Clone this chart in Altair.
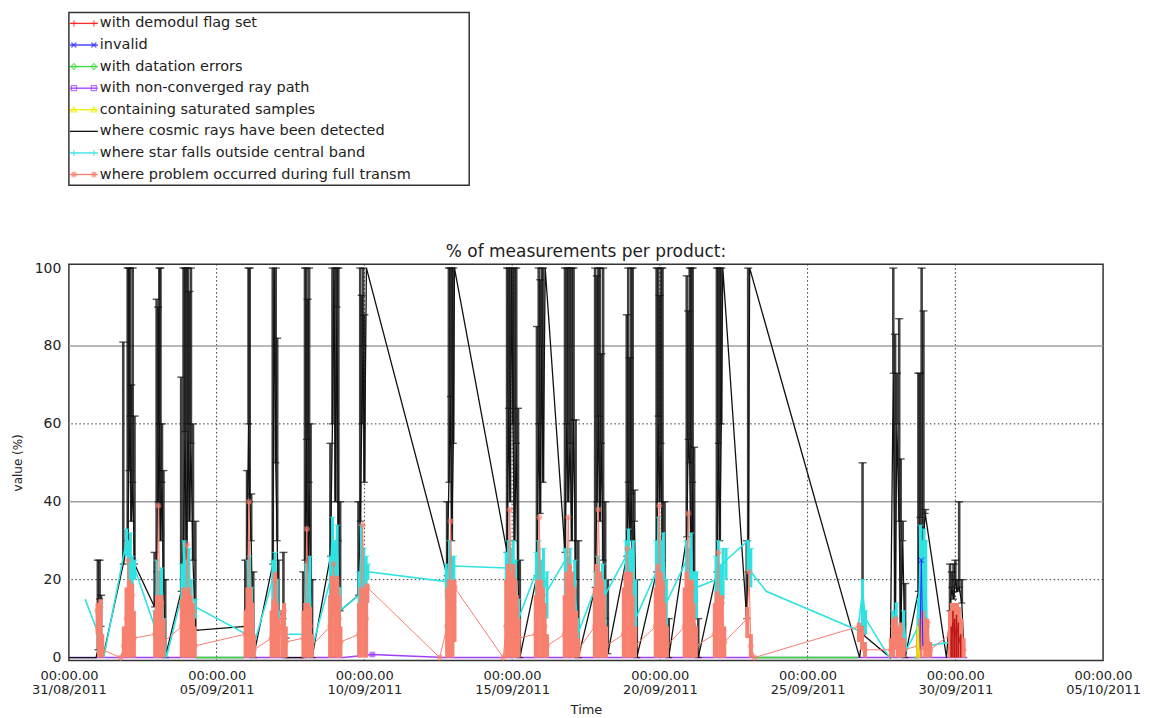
import altair as alt
import pandas as pd

FONT = "DejaVu Sans"

TITLE = "% of measurements per product:"
X_TITLE = "Time"
Y_TITLE = "value (%)"
TICK_DAYS = [0, 5, 10, 15, 20, 25, 30, 35]          # days after 31/08/2011 00:00
TICK_TIME = "00:00.00"
TICK_DATES = ["31/08/2011", "05/09/2011", "10/09/2011", "15/09/2011",
              "20/09/2011", "25/09/2011", "30/09/2011", "05/10/2011"]
Y_TICKS = [0, 20, 40, 60, 80, 100]
GRID_SOLID = [40, 80]
GRID_DOTTED = [20, 60]
VGRID_DOTTED = [5, 10, 15, 20, 25, 30]
X_RANGE = [0, 35]
Y_RANGE = [-0.75, 101.0]

LEGEND_LABELS = [
    "with demodul flag set",
    "invalid",
    "with datation errors",
    "with non-converged ray path",
    "containing saturated samples",
    "where cosmic rays have been detected",
    "where star falls outside central band",
    "where problem occurred during full transm",
]

# cosmic rays: (day, value, error upper)
COSMIC = [
    (0.00, 0, 0), (0.92, 0, 0),
    (0.98, 2, 25), (1.04, 15, 25), (1.09, 8, 16), (1.15, 0, 0),
    (1.84, 24, 81), (1.99, 30, 100), (2.03, 48, 100), (2.07, 62, 100), (2.11, 35, 70), (2.16, 45, 100), (2.22, 24, 62),
    (2.90, 13, 27), (2.97, 22, 92), (3.02, 40, 90), (3.06, 60, 100), (3.10, 30, 100), (3.15, 45, 60), (3.20, 20, 48), (3.26, 0, 20),
    (3.80, 17, 72), (3.88, 30, 100), (3.93, 58, 100), (3.98, 20, 100), (4.03, 60, 100), (4.08, 35, 94), (4.13, 55, 100), (4.20, 25, 60), (4.28, 7, 35),
    (5.97, 8, 25), (6.03, 25, 48), (6.08, 60, 100), (6.12, 40, 100), (6.17, 30, 42), (6.24, 0, 22),
    (6.90, 24, 100), (6.95, 100, 100), (7.00, 50, 100), (7.05, 30, 82), (7.09, 12, 25),
    (7.26, 10, 27), (7.33, 0, 5),
    (7.93, 0, 22), (7.99, 25, 100), (8.04, 56, 100), (8.08, 10, 92), (8.13, 45, 100), (8.18, 20, 60), (8.23, 0, 20),
    (8.85, 26, 55), (8.92, 60, 100), (8.97, 100, 100), (9.02, 40, 100), (9.07, 90, 100), (9.12, 30, 100), (9.18, 12, 40),
    (9.80, 16, 40), (9.86, 35, 100), (9.91, 60, 93), (9.96, 80, 100), (10.00, 45, 88), (10.07, 100, 100),
    (12.80, 21, 40), (12.86, 45, 100), (12.91, 67, 100), (12.96, 30, 100), (13.01, 55, 100), (13.05, 100, 100),
    (14.83, 27, 100), (14.88, 64, 100), (14.93, 40, 100), (14.98, 100, 100), (15.03, 60, 100), (15.08, 30, 100), (15.14, 55, 100), (15.20, 20, 64), (15.26, 0, 25),
    (15.84, 21, 85), (15.90, 60, 100), (15.95, 37, 97), (16.00, 80, 100), (16.05, 45, 100), (16.12, 100, 100),
    (16.79, 27, 100), (16.85, 60, 100), (16.90, 40, 100), (16.96, 55, 100), (17.02, 30, 100), (17.08, 61, 100), (17.15, 20, 61), (17.24, 0, 30),
    (17.81, 18, 100), (17.87, 40, 98), (17.92, 62, 100), (17.97, 35, 100), (18.02, 55, 78), (18.08, 25, 100), (18.15, 10, 40), (18.24, 1, 20),
    (18.88, 26, 88), (18.93, 45, 100), (18.98, 30, 77), (19.03, 42, 100), (19.08, 20, 100), (19.14, 35, 43), (19.22, 0, 20),
    (19.89, 22, 100), (19.94, 62, 100), (19.99, 40, 93), (20.04, 55, 100), (20.09, 25, 100), (20.16, 15, 40), (20.30, 0, 10),
    (20.91, 31, 98), (20.96, 56, 89), (21.01, 50, 100), (21.06, 20, 100), (21.11, 45, 100), (21.16, 10, 54), (21.30, 0, 10),
    (21.93, 22, 100), (21.98, 55, 100), (22.03, 30, 100), (22.08, 60, 100), (22.13, 100, 100),
    (22.94, 10, 30), (22.99, 22, 100), (23.04, 100, 100),
    (26.76, 0, 0), (26.86, 6, 50),
    (27.80, 0, 0), (27.90, 73, 100), (27.96, 5, 83), (28.02, 60, 73), (28.10, 35, 87), (28.15, 5, 51), (28.22, 30, 35), (28.30, 0, 19),
    (28.75, 17, 73), (28.80, 36, 73), (28.86, 16, 100), (28.92, 30, 89), (28.98, 37, 38), (29.70, 0, 0),
    (29.82, 12, 24), (29.88, 18, 22), (29.94, 15, 24), (30.00, 20, 25), (30.06, 17, 20), (30.13, 18, 40), (30.22, 14, 20), (30.30, 0, 0),
]

# star outside central band: (day, value, error low, error high)
STAR_BAND = [
    (0.55, 15, 15, 15),
    (1.00, 6, 6, 6), (1.08, 10, 4, 14), (1.18, 0, 0, 0),
    (1.95, 30, 26, 33), (2.02, 22, 15, 30), (2.08, 25, 18, 32), (2.14, 18, 10, 26), (2.22, 23, 20, 25),
    (2.90, 8, 5, 12), (2.98, 20, 8, 25), (3.06, 12, 5, 22), (3.14, 18, 8, 23), (3.22, 5, 0, 10), (3.30, 0, 0, 0),
    (3.82, 16, 8, 24), (3.90, 27, 10, 30), (3.98, 14, 6, 25), (4.06, 24, 10, 28), (4.14, 10, 5, 20), (4.28, 13, 10, 15),
    (6.00, 6, 3, 10), (6.06, 18, 8, 25), (6.12, 22, 12, 26), (6.18, 10, 5, 18), (6.25, 3, 0, 5),
    (6.90, 20, 10, 25), (6.98, 25, 15, 27), (7.05, 15, 8, 20), (7.10, 8, 5, 12),
    (7.28, 6, 3, 10),
    (7.95, 6, 3, 10), (8.02, 20, 8, 24), (8.08, 12, 5, 22), (8.15, 22, 10, 26), (8.22, 2, 0, 5),
    (8.85, 20, 10, 26), (8.92, 35, 15, 36), (9.00, 22, 10, 30), (9.08, 28, 12, 34), (9.16, 12, 8, 18),
    (9.82, 16, 10, 22), (9.90, 30, 15, 34), (9.98, 20, 12, 28), (10.06, 24, 18, 26), (10.12, 22, 20, 24),
    (12.77, 19.5, 15, 24), (12.88, 25, 18, 30), (12.95, 20, 12, 26), (13.03, 23.5, 20, 26),
    (14.80, 23, 18, 27), (14.88, 27, 15, 30), (14.96, 18, 8, 28), (15.04, 24, 10, 30), (15.12, 15, 8, 25), (15.22, 10, 5, 15),
    (15.82, 22, 12, 27), (15.90, 26, 15, 30), (15.98, 16, 8, 25), (16.06, 22, 10, 28), (16.18, 17, 10, 22),
    (16.80, 25, 15, 28), (16.88, 18, 8, 26), (16.96, 24, 10, 28), (17.04, 12, 5, 22), (17.12, 20, 8, 25), (17.22, 6, 2, 10),
    (17.82, 18, 10, 22), (17.90, 22, 10, 26), (17.98, 14, 5, 22), (18.06, 20, 8, 24), (18.14, 16, 8, 20),
    (18.86, 26, 15, 30), (18.94, 30, 18, 33), (19.02, 18, 8, 28), (19.10, 24, 10, 30), (19.18, 10, 5, 20),
    (19.88, 22, 12, 30), (19.96, 35, 18, 36), (20.04, 20, 10, 30), (20.12, 28, 12, 32), (20.22, 14, 8, 20),
    (20.90, 25, 15, 30), (20.98, 20, 10, 28), (21.06, 28, 12, 32), (21.14, 15, 8, 22), (21.24, 18, 10, 22),
    (21.90, 20, 12, 26), (21.98, 25, 15, 30), (22.06, 18, 10, 24), (22.14, 24, 15, 28), (22.24, 25, 20, 28),
    (22.98, 30, 22, 30), (23.08, 22, 18, 28),
    (23.60, 17, 17, 17), (26.70, 7, 7, 7),
    (26.86, 17, 8, 20), (26.96, 10, 6, 12),
    (27.77, 0, 0, 0), (27.90, 8, 2, 12), (28.00, 12, 5, 14), (28.10, 4, 0, 8), (28.25, 10, 5, 12), (28.35, 2, 2, 2),
    (28.75, 8, 2, 15), (28.82, 32, 10, 34), (28.88, 15, 5, 30), (28.94, 30, 12, 33), (29.00, 22, 8, 30), (29.05, 3, 0, 8),
    (29.85, 4, 0, 8), (30.00, 8, 2, 10), (30.15, 2, 0, 5), (30.30, 0, 0, 0),
]

# problem during full transmission: (day, value, error low, error high)
FULL_TRANSM = [
    (0.97, 12, 6, 14), (1.02, 4, 0, 10), (1.07, 13, 3, 15), (1.13, 2, 0, 6), (1.75, 0, 0, 0),
    (1.86, 3, 0, 8), (1.95, 10, 0, 18), (2.00, 25, 25, 25), (2.04, 14, 0, 20), (2.09, 8, 0, 18), (2.14, 16, 2, 19), (2.20, 5, 0, 12),
    (2.92, 6, 0, 12), (2.98, 12, 0, 16), (3.03, 39, 39, 39), (3.08, 10, 0, 16), (3.13, 14, 2, 16), (3.20, 4, 0, 10),
    (3.82, 8, 0, 15), (3.88, 14, 0, 18), (3.94, 10, 0, 17), (4.00, 29, 29, 29), (4.06, 15, 0, 18), (4.12, 9, 0, 16), (4.20, 12, 0, 14), (4.26, 3, 0, 8),
    (5.98, 6, 0, 12), (6.04, 12, 0, 18), (6.09, 40, 40, 40), (6.14, 14, 0, 18), (6.20, 8, 0, 14), (6.26, 2, 0, 6),
    (6.86, 5, 0, 12), (6.92, 12, 0, 15), (6.98, 20, 2, 22), (7.03, 10, 0, 14), (7.08, 6, 0, 10),
    (7.22, 8, 0, 12), (7.28, 12, 0, 14), (7.34, 4, 0, 8),
    (7.94, 5, 0, 12), (8.00, 10, 0, 14), (8.05, 33, 33, 33), (8.10, 12, 0, 14), (8.16, 8, 0, 13), (8.22, 3, 0, 6),
    (8.84, 8, 0, 16), (8.90, 14, 0, 21), (8.96, 24, 24, 24), (9.02, 12, 0, 20), (9.08, 17, 0, 21), (9.14, 10, 0, 16), (9.19, 4, 0, 8),
    (9.82, 6, 0, 14), (9.88, 12, 0, 18), (9.94, 34, 34, 34), (10.00, 14, 0, 18), (10.06, 10, 0, 16), (10.10, 18, 14, 19),
    (12.55, 0, 0, 0),
    (12.80, 8, 0, 18), (12.86, 14, 0, 20), (12.92, 35, 35, 35), (12.98, 12, 0, 20), (13.05, 18, 4, 20),
    (14.70, 0, 0, 0),
    (14.80, 8, 0, 20), (14.86, 16, 0, 24), (14.92, 38, 38, 38), (14.98, 14, 0, 22), (15.04, 20, 0, 24), (15.10, 10, 0, 20), (15.16, 12, 0, 16), (15.22, 5, 0, 10),
    (15.80, 6, 0, 16), (15.86, 14, 0, 20), (15.92, 36, 36, 36), (15.98, 12, 0, 20), (16.04, 16, 0, 18), (16.10, 8, 0, 14), (16.18, 3, 0, 6),
    (16.78, 6, 0, 16), (16.84, 14, 0, 22), (16.90, 36, 36, 36), (16.96, 16, 0, 24), (17.02, 18, 0, 22), (17.08, 10, 0, 18), (17.16, 6, 0, 12), (17.24, 2, 0, 5),
    (17.80, 8, 0, 18), (17.86, 16, 0, 24), (17.92, 38, 38, 38), (17.98, 14, 0, 22), (18.04, 18, 0, 20), (18.10, 8, 0, 16), (18.18, 3, 0, 8),
    (18.78, 6, 0, 18), (18.84, 14, 0, 22), (18.90, 28, 28, 28), (18.96, 16, 0, 22), (19.02, 20, 0, 22), (19.08, 10, 0, 16), (19.16, 3, 0, 8),
    (19.86, 8, 0, 18), (19.92, 16, 0, 24), (19.98, 39, 39, 39), (20.04, 14, 0, 22), (20.10, 18, 0, 20), (20.16, 8, 0, 14), (20.24, 3, 0, 8),
    (20.84, 8, 0, 18), (20.90, 16, 0, 22), (20.96, 37, 37, 37), (21.02, 14, 0, 20), (21.08, 18, 0, 20), (21.14, 8, 0, 14), (21.22, 3, 0, 8),
    (21.86, 6, 0, 14), (21.92, 12, 0, 17), (21.98, 27, 27, 27), (22.04, 10, 0, 16), (22.10, 14, 0, 16), (22.18, 4, 0, 8),
    (22.96, 10, 5, 13), (23.02, 22, 22, 22), (23.08, 3, 0, 6), (23.20, 0, 0, 0),
    (26.74, 8, 4, 9), (26.84, 6, 2, 8), (26.94, 2, 0, 4),
    (27.82, 2, 0, 5), (27.90, 8, 0, 10), (27.98, 10, 2, 10), (28.06, 4, 0, 8), (28.15, 7, 0, 9), (28.25, 2, 0, 5),
    (28.74, 3, 0, 6), (28.82, 8, 0, 10), (28.90, 10, 2, 12), (28.98, 5, 0, 8), (29.05, 9, 0, 10), (29.15, 2, 0, 4),
    (29.82, 6, 0, 12), (29.88, 10, 0, 14), (29.94, 12, 0, 14), (30.00, 8, 0, 14), (30.06, 12, 0, 14), (30.12, 9, 0, 13), (30.20, 5, 0, 10), (30.28, 2, 0, 5),
]

# demodul flag set: (day, value, error low, error high)
DEMODUL = [
    (29.86, 4, 0, 8), (29.92, 9, 0, 12), (29.98, 5, 0, 10), (30.04, 8, 0, 11), (30.10, 6, 0, 9), (30.18, 3, 0, 6),
]
# invalid: (day, value)
INVALID = [(28.80, 2), (28.85, 25), (28.90, 3)]
# datation errors: (segment, day, value)
DATATION = [
    (0, 4.30, 0), (0, 5.90, 0),
    (1, 23.20, 0), (1, 26.70, 0),
    (2, 28.60, 0), (2, 28.70, 0), (2, 28.72, 11), (2, 28.76, 2), (2, 28.85, 0),
]
# non-converged ray path: (day, value)
NONCONV = [
    (0.0, 0), (0.9, 0), (2.3, 0), (3.4, 0), (4.4, 0), (5.9, 0), (7.4, 0), (8.3, 0), (9.3, 0),
    (10.27, 0.8), (12.7, 0), (13.1, 0), (14.7, 0), (15.3, 0), (16.3, 0), (17.3, 0), (18.3, 0),
    (19.3, 0), (20.3, 0), (21.3, 0), (22.3, 0), (23.2, 0), (26.7, 0), (27.7, 0), (28.5, 0),
    (29.6, 0), (30.4, 0),
]
# saturated samples: (day, value)
SATURATED = [(28.70, 0), (28.73, 8), (28.78, 0)]

# ---------------- styles ----------------
C_RED, C_BLUE, C_GREEN, C_PURPLE = "#ff2a2a", "#2a2aff", "#3ddc3d", "#a040ff"
C_YELLOW, C_BLACK, C_CYAN, C_SALMON = "#eeee00", "#111111", "#30e2e2", "#f7806f"
LEGEND_COLORS = [C_RED, C_BLUE, C_GREEN, C_PURPLE, C_YELLOW, C_BLACK, C_CYAN, C_SALMON]
SYM_PLUS = "M-1,0L1,0M0,-1L0,1"
SYM_X = "M-0.8,-0.8L0.8,0.8M-0.8,0.8L0.8,-0.8"
SYM_DIAMOND = "M0,-1L0.8,0L0,1L-0.8,0Z"
SYM_SQUARE = "M-0.8,-0.8L0.8,-0.8L0.8,0.8L-0.8,0.8Z"
SYM_TRI = "M0,-0.9L0.9,0.7L-0.9,0.7Z"
SYM_BAR = "M0,-1L0,1"
SYM_AST = "M-1,0L1,0M0,-1L0,1M-0.7,-0.7L0.7,0.7M-0.7,0.7L0.7,-0.7"
LEGEND_SHAPES = [SYM_PLUS, SYM_X, SYM_DIAMOND, SYM_SQUARE, SYM_TRI, "", SYM_BAR, SYM_AST]

xs = alt.Scale(domain=X_RANGE, nice=False, zero=False)
ys = alt.Scale(domain=Y_RANGE, nice=False, zero=False)

label_expr = "['" + TICK_TIME + "', " + str(TICK_DATES) + "[round(datum.value / 5)]]"
x_axis = alt.Axis(values=TICK_DAYS, labelExpr=label_expr, title=X_TITLE, grid=False, ticks=False,
                  domain=False, labelFlush=False, labelOverlap=False, labelFontSize=13,
                  labelLineHeight=14, labelPadding=9, labelColor="#222", labelFont=FONT,
                  titleFont=FONT, titleFontSize=13, titleFontWeight="normal", titleColor="#222",
                  titlePadding=7)
y_axis = alt.Axis(values=Y_TICKS, title=Y_TITLE, grid=False, ticks=False, domain=False,
                  labelFontSize=14, labelPadding=8, labelColor="#222", labelFont=FONT,
                  titleFont=FONT, titleFontSize=12, titleFontWeight="normal", titleColor="#222",
                  titlePadding=10)


def X(field="t"):
    return alt.X(f"{field}:Q", scale=xs, axis=x_axis)


def Y(field="v"):
    return alt.Y(f"{field}:Q", scale=ys, axis=y_axis)


cosmic = pd.DataFrame(COSMIC, columns=["t", "v", "hi"])
cosmic_err = cosmic[cosmic.hi > cosmic.v]
star = pd.DataFrame(STAR_BAND, columns=["t", "v", "lo", "hi"])
star_err = star[star.hi > star.lo]
ft = pd.DataFrame(FULL_TRANSM, columns=["t", "v", "lo", "hi"])
ft_err = ft[ft.hi > ft.lo]
dem = pd.DataFrame(DEMODUL, columns=["t", "v", "lo", "hi"])
inv = pd.DataFrame(INVALID, columns=["t", "v"])
dat = pd.DataFrame(DATATION, columns=["seg", "t", "v"])
nonc = pd.DataFrame(NONCONV, columns=["t", "v"])
sat = pd.DataFrame(SATURATED, columns=["t", "v"])

layers = [
    alt.Chart(pd.DataFrame({"g": VGRID_DOTTED})).mark_rule(
        color="#333", strokeDash=[1.5, 2.5], strokeWidth=1).encode(x=X("g")),
    alt.Chart(pd.DataFrame({"g": GRID_SOLID})).mark_rule(
        color="#a0a0a0", strokeWidth=1.6).encode(y=Y("g")),
    alt.Chart(pd.DataFrame({"g": GRID_DOTTED})).mark_rule(
        color="#333", strokeDash=[1.5, 2.5], strokeWidth=1).encode(y=Y("g")),
    alt.Chart(nonc).mark_line(color=C_PURPLE, strokeWidth=1.5).encode(x=X(), y=Y()),
    alt.Chart(nonc[nonc.v > 0]).mark_point(shape=SYM_SQUARE, size=20, color=C_PURPLE,
                                           filled=False).encode(x=X(), y=Y()),
    alt.Chart(dat).mark_line(color=C_GREEN, strokeWidth=1.8).encode(x=X(), y=Y(), detail="seg:N"),
    # cosmic rays
    alt.Chart(cosmic_err).mark_rule(color=C_BLACK, strokeWidth=2.6, opacity=0.8).encode(
        x=X(), y=Y("v"), y2="hi:Q"),
    alt.Chart(cosmic_err).mark_tick(orient="horizontal", color=C_BLACK, size=8, thickness=1.4).encode(
        x=X(), y=Y("hi")),
    alt.Chart(cosmic_err).mark_tick(orient="horizontal", color=C_BLACK, size=7, thickness=1.3).encode(
        x=X(), y=Y("v")),
    alt.Chart(cosmic).mark_line(color=C_BLACK, strokeWidth=1.3).encode(x=X(), y=Y(), order="t:Q"),
    # star outside central band
    alt.Chart(star_err).mark_rule(color=C_CYAN, strokeWidth=3).encode(x=X(), y=Y("lo"), y2="hi:Q"),
    alt.Chart(star_err).mark_tick(orient="horizontal", color=C_CYAN, size=6, thickness=1.2).encode(
        x=X(), y=Y("hi")),
    alt.Chart(star).mark_line(color=C_CYAN, strokeWidth=1.6).encode(x=X(), y=Y(), order="t:Q"),
    # problem during full transmission
    alt.Chart(ft_err).mark_rule(color=C_SALMON, strokeWidth=4).encode(x=X(), y=Y("lo"), y2="hi:Q"),
    alt.Chart(ft).mark_line(color=C_SALMON, strokeWidth=1).encode(x=X(), y=Y(), order="t:Q"),
    alt.Chart(ft).mark_point(shape=SYM_AST, size=40, color=C_SALMON, strokeWidth=1.4,
                             filled=False).encode(x=X(), y=Y()),
    # demodul flag
    alt.Chart(dem).mark_rule(color="#c01818", strokeWidth=1.6).encode(x=X(), y=Y("lo"), y2="hi:Q"),
    alt.Chart(dem).mark_line(color="#c01818", strokeWidth=1).encode(x=X(), y=Y()),
    # invalid
    alt.Chart(inv).mark_line(color=C_BLUE, strokeWidth=1).encode(x=X(), y=Y()),
    alt.Chart(inv[inv.v > 5]).mark_point(shape=SYM_X, size=40, color=C_BLUE, strokeWidth=1.2,
                                         filled=False).encode(x=X(), y=Y()),
    # saturated
    alt.Chart(sat).mark_line(color=C_YELLOW, strokeWidth=1.5).encode(x=X(), y=Y()),
]

main = alt.layer(*layers).properties(
    width=1036, height=397,
    title=alt.TitleParams(TITLE, font=FONT, fontSize=17, fontWeight="normal", color="#222", offset=0),
)

# ---------------- legend box ----------------
leg = pd.DataFrame({"label": LEGEND_LABELS, "color": LEGEND_COLORS, "shape": LEGEND_SHAPES})
leg_sym = leg[leg["shape"] != ""]
yl = alt.Y("label:N", sort=LEGEND_LABELS, axis=None, scale=alt.Scale(type="point", padding=0.5))
col = alt.Color("color:N", scale=None)
legend = alt.layer(
    alt.Chart(leg).mark_rule(strokeWidth=1.3).encode(x=alt.value(1), x2=alt.value(29), y=yl, color=col),
    alt.Chart(leg_sym).mark_point(size=40, filled=False, strokeWidth=1.3).encode(
        x=alt.value(5), y=yl, color=col, shape=alt.Shape("shape:N", scale=None)),
    alt.Chart(leg_sym).mark_point(size=40, filled=False, strokeWidth=1.3).encode(
        x=alt.value(25), y=yl, color=col, shape=alt.Shape("shape:N", scale=None)),
    alt.Chart(leg).mark_text(align="left", baseline="middle", font=FONT, fontSize=14.5, color="#222").encode(
        x=alt.value(31), y=yl, text="label:N"),
).properties(width=401, height=173)

chart = alt.vconcat(legend, main, spacing=79, bounds="flush").properties(
    padding={"left": 2, "top": 3, "right": 0, "bottom": 0},
    background="white",
).configure_view(stroke="#333", strokeWidth=1.5)

chart.save("out.html", embed_options={"renderer": "svg", "actions": False})
